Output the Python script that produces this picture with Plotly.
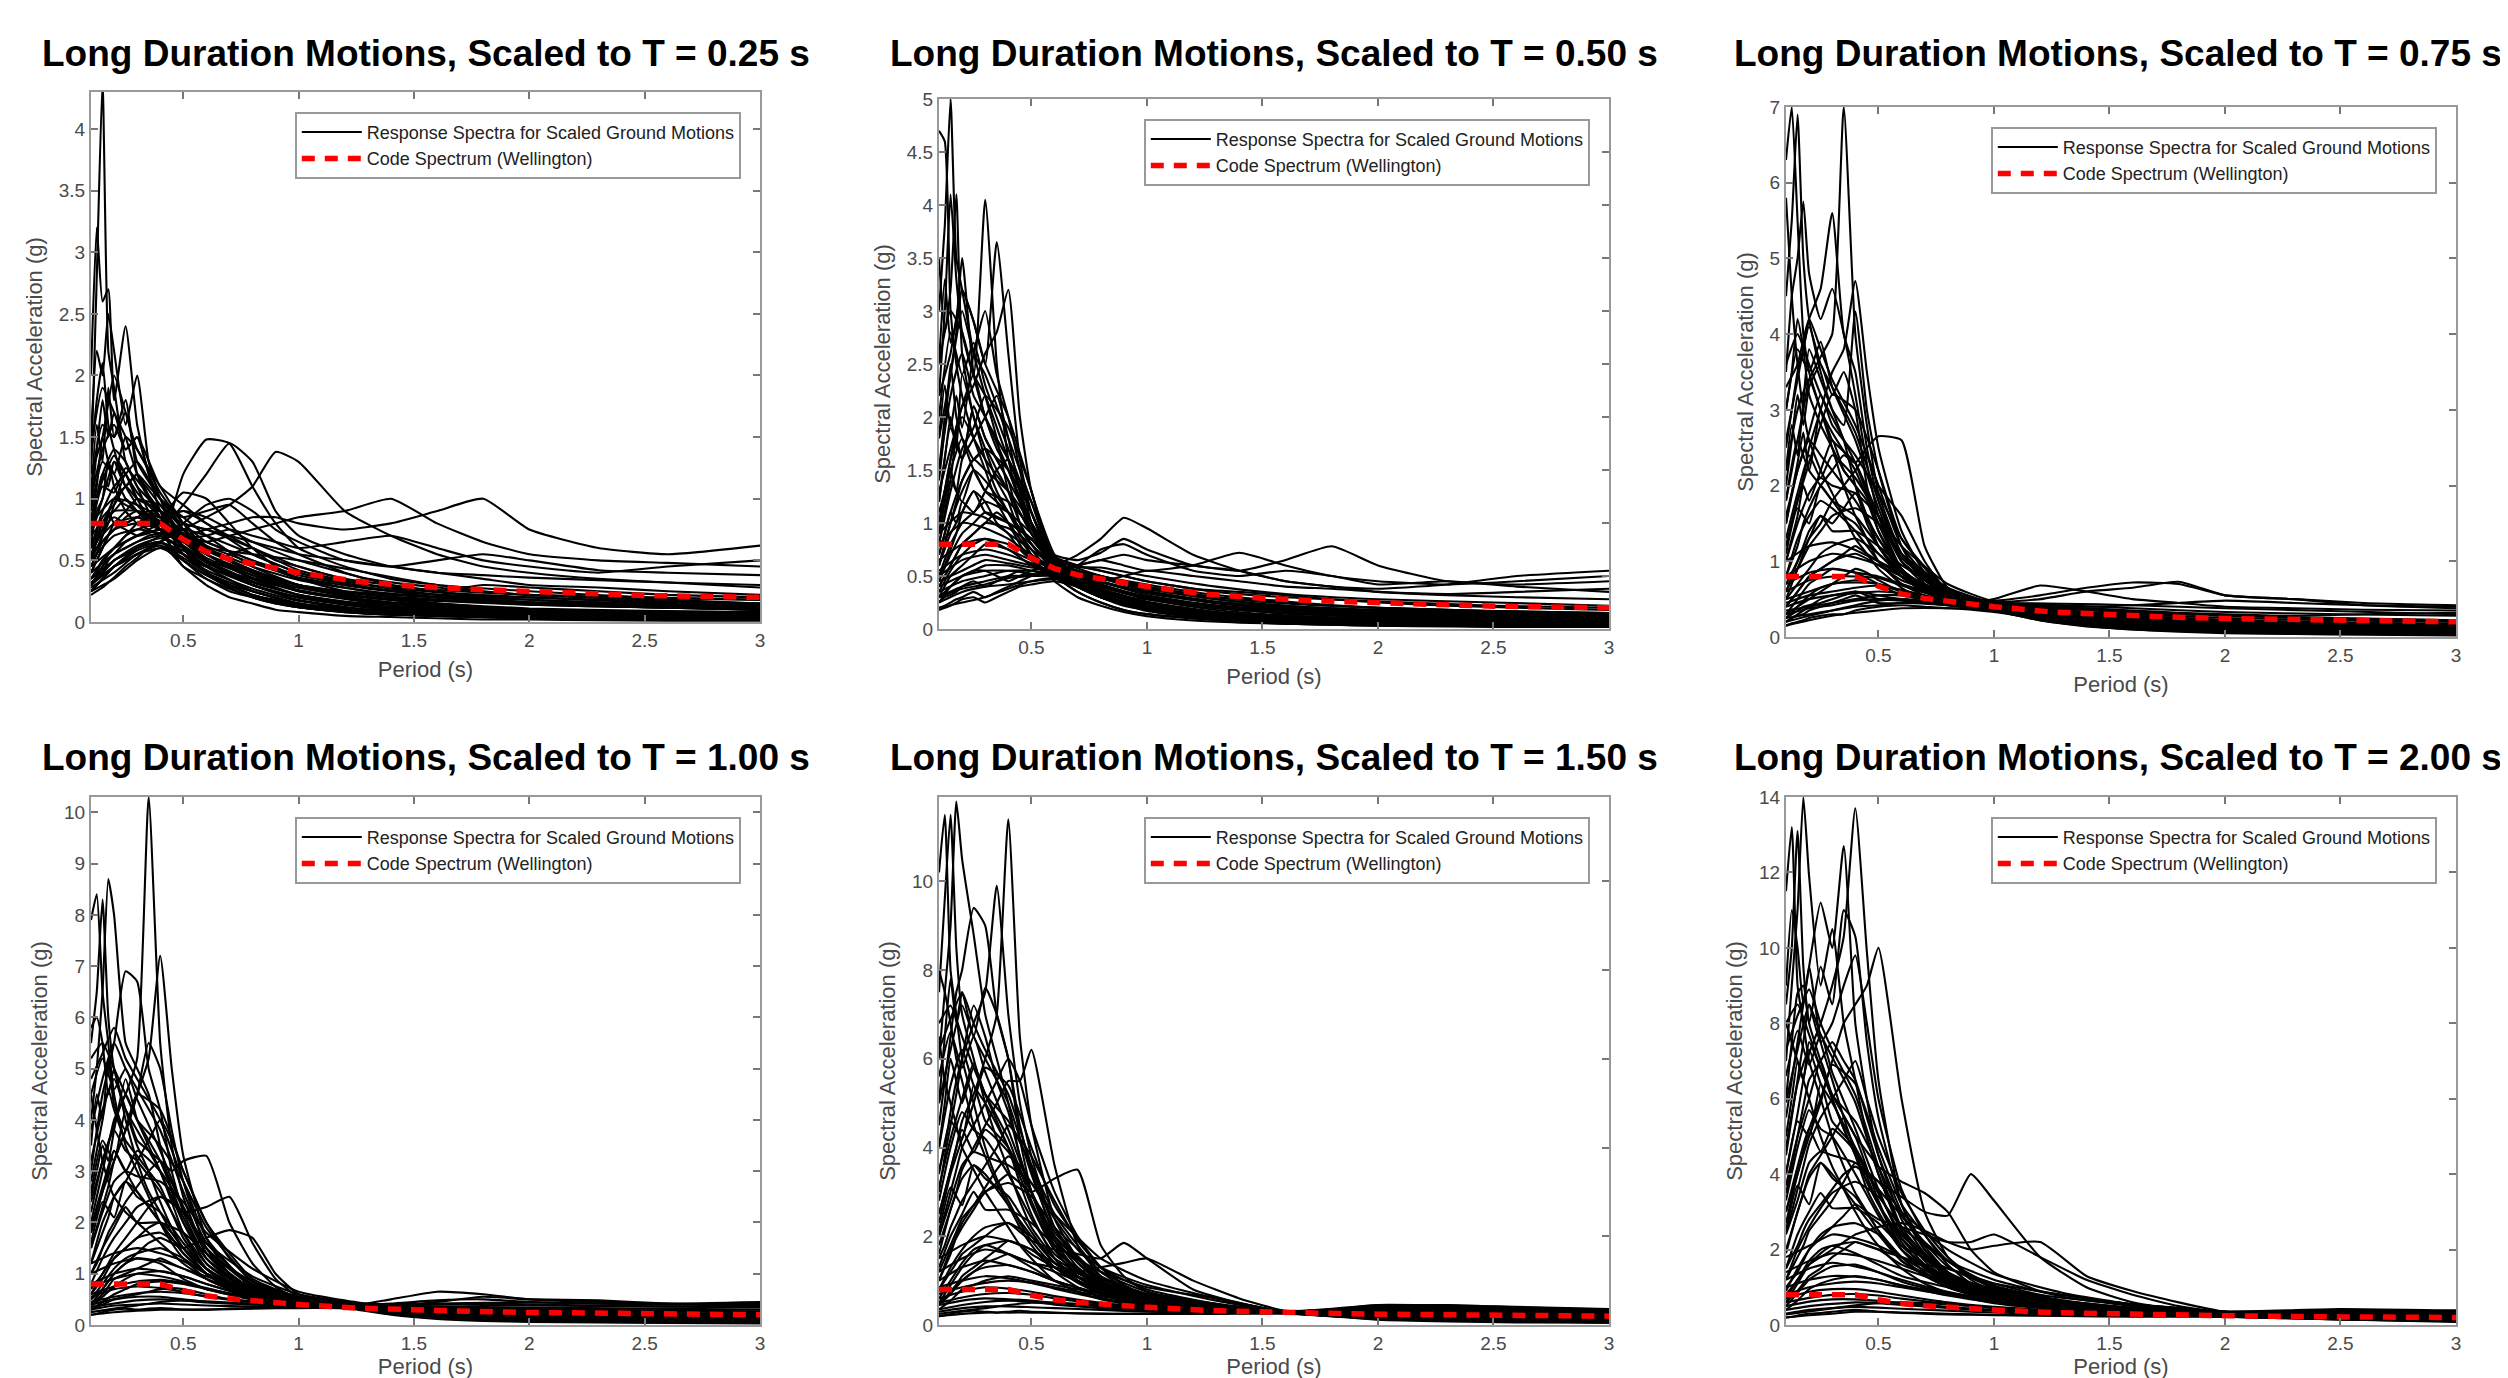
import plotly.graph_objects as go

# ---------------- data ----------------
PERIODS = [0.1, 0.125, 0.15, 0.175, 0.2, 0.25, 0.3, 0.35, 0.4, 0.45, 0.5, 0.6,
           0.7, 0.8, 0.9, 1.0, 1.2, 1.4, 1.6, 1.8, 2.0, 2.3, 2.6, 3.0]
DENSE_PERIODS = [0.1, 0.15, 0.2, 0.25, 0.3, 0.4, 0.5, 0.6, 0.8, 1.0, 1.3, 1.6, 2.0, 2.5, 3.0]
LOW_PERIODS = [0.1, 0.2, 0.3, 0.4, 0.5, 0.6, 0.8, 1.0, 1.3, 1.6, 2.0, 2.5, 3.0]

CODE_T = [0.1, 0.2, 0.3, 0.4, 0.5, 0.6, 0.7, 0.8, 0.9, 1.0, 1.25, 1.5, 1.75, 2.0, 2.5, 3.0]
CODE_SA = [0.8, 0.8, 0.8, 0.8, 0.67, 0.57, 0.51, 0.47, 0.43, 0.40, 0.33, 0.29, 0.265, 0.245, 0.215, 0.20]

SCALE_T = ["0.25", "0.50", "0.75", "1.00", "1.50", "2.00"]
Y_MAX = [4.3, 5.0, 7.0, 10.3, 11.9, 14.0]
Y_DTICK = [0.5, 0.5, 1, 1, 2, 2]
X_TICKS = [0.5, 1, 1.5, 2, 2.5, 3]
X_TICK_TEXT = ["0.5", "1", "1.5", "2", "2.5", "3"]

# --- spectra read on PERIODS grid (outlying / distinctive curves) ---
P1_SPECTRA = [
    [1.2, 2.8, 4.4, 2.2, 1.9, 1.3, 1.1, 0.9, 0.8, 0.6, 0.45, 0.35, 0.25, 0.2, 0.15, 0.12, 0.08, 0.06, 0.05, 0.04, 0.035, 0.03, 0.025, 0.02],
    [2.0, 3.2, 2.6, 2.7, 1.8, 2.4, 1.6, 1.2, 0.9, 0.7, 0.55, 0.4, 0.3, 0.22, 0.18, 0.14, 0.1, 0.08, 0.06, 0.05, 0.04, 0.035, 0.03, 0.025],
    [1.5, 2.2, 2.0, 2.5, 2.2, 1.6, 2.0, 1.3, 1.0, 0.8, 0.7, 0.5, 0.38, 0.3, 0.24, 0.2, 0.14, 0.1, 0.08, 0.07, 0.06, 0.05, 0.04, 0.03],
    [0.9, 1.4, 1.8, 1.5, 1.7, 1.4, 1.5, 1.2, 1.0, 0.9, 0.75, 0.6, 0.5, 0.42, 0.35, 0.3, 0.22, 0.18, 0.14, 0.12, 0.1, 0.08, 0.07, 0.06],
    [0.3, 0.35, 0.4, 0.45, 0.5, 0.55, 0.6, 0.65, 0.7, 0.9, 1.2, 1.48, 1.45, 1.1, 0.8, 0.6, 0.45, 0.35, 0.3, 0.25, 0.22, 0.2, 0.18, 0.15],
    [0.35, 0.4, 0.5, 0.55, 0.6, 0.65, 0.7, 0.75, 0.8, 0.85, 0.95, 1.2, 1.45, 1.3, 0.9, 0.7, 0.55, 0.45, 0.4, 0.35, 0.3, 0.28, 0.25, 0.22],
    [0.25, 0.3, 0.35, 0.4, 0.45, 0.5, 0.55, 0.6, 0.65, 0.7, 0.75, 0.85, 0.95, 1.1, 1.38, 1.3, 0.9, 0.7, 0.55, 0.45, 0.4, 0.35, 0.32, 0.28],
    [0.3, 0.35, 0.4, 0.5, 0.55, 0.6, 0.65, 0.7, 0.72, 0.75, 0.7, 0.65, 0.7, 0.75, 0.8, 0.85, 0.9, 1.0, 0.8, 0.65, 0.55, 0.5, 0.48, 0.45],
    [0.25, 0.3, 0.35, 0.4, 0.45, 0.5, 0.55, 0.6, 0.65, 0.7, 0.7, 0.75, 0.8, 0.85, 0.85, 0.8, 0.75, 0.8, 0.9, 1.0, 0.75, 0.6, 0.55, 0.62],
    [0.4, 0.5, 0.6, 0.7, 0.75, 0.8, 0.85, 0.9, 0.9, 0.85, 0.8, 0.75, 0.7, 0.65, 0.6, 0.55, 0.5, 0.45, 0.4, 0.38, 0.36, 0.34, 0.32, 0.3],
    [0.6, 1.0, 1.2, 1.1, 1.3, 1.2, 1.0, 0.95, 0.9, 0.8, 0.6, 0.4, 0.3, 0.25, 0.2, 0.15, 0.1, 0.08, 0.06, 0.05, 0.04, 0.035, 0.03, 0.02],
    [0.22, 0.25, 0.28, 0.32, 0.36, 0.45, 0.52, 0.6, 0.62, 0.55, 0.45, 0.3, 0.2, 0.15, 0.1, 0.08, 0.05, 0.04, 0.03, 0.02, 0.02, 0.015, 0.01, 0.01],
    [1.0, 1.6, 1.3, 1.9, 1.5, 1.8, 1.2, 1.0, 0.85, 0.7, 0.65, 0.5, 0.4, 0.35, 0.3, 0.25, 0.2, 0.16, 0.14, 0.12, 0.1, 0.09, 0.08, 0.07],
    [0.5, 0.7, 0.8, 0.9, 1.0, 1.1, 1.2, 1.1, 1.0, 0.9, 0.85, 0.9, 0.95, 0.8, 0.65, 0.55, 0.4, 0.3, 0.25, 0.2, 0.18, 0.15, 0.12, 0.1],
    [0.8, 1.1, 1.5, 1.3, 1.2, 1.0, 0.9, 0.8, 0.75, 0.7, 0.8, 0.95, 1.0, 0.9, 0.75, 0.65, 0.5, 0.45, 0.5, 0.55, 0.5, 0.42, 0.4, 0.38],
    [0.3, 0.35, 0.45, 0.55, 0.6, 0.7, 0.8, 0.85, 0.8, 0.75, 0.65, 0.55, 0.45, 0.35, 0.3, 0.28, 0.25, 0.22, 0.2, 0.18, 0.15, 0.13, 0.12, 0.1],
    [0.7, 0.9, 1.0, 1.3, 1.1, 0.9, 0.8, 0.75, 0.7, 0.65, 0.55, 0.45, 0.55, 0.6, 0.5, 0.45, 0.35, 0.3, 0.25, 0.3, 0.28, 0.25, 0.22, 0.2],
    [1.3, 1.8, 2.1, 1.6, 1.4, 1.1, 0.95, 0.85, 0.75, 0.6, 0.5, 0.38, 0.28, 0.2, 0.15, 0.12, 0.08, 0.06, 0.05, 0.04, 0.03, 0.03, 0.02, 0.02],
    [0.45, 0.55, 0.7, 0.8, 0.95, 1.2, 1.0, 0.85, 0.8, 0.95, 1.05, 1.0, 0.8, 0.6, 0.45, 0.35, 0.25, 0.2, 0.15, 0.12, 0.1, 0.08, 0.07, 0.06],
    [0.55, 0.65, 0.75, 0.9, 0.8, 0.75, 0.7, 0.72, 0.75, 0.7, 0.68, 0.7, 0.75, 0.7, 0.65, 0.6, 0.65, 0.7, 0.6, 0.5, 0.45, 0.4, 0.45, 0.5],
]

P2_SPECTRA = [
    [4.7, 4.6, 3.0, 2.5, 2.2, 1.8, 1.5, 1.2, 1.0, 0.8, 0.65, 0.5, 0.35, 0.25, 0.18, 0.14, 0.1, 0.07, 0.05, 0.04, 0.035, 0.03, 0.025, 0.02],
    [3.0, 3.8, 5.0, 3.5, 3.2, 2.6, 2.2, 1.8, 1.3, 1.0, 0.8, 0.55, 0.4, 0.3, 0.22, 0.18, 0.12, 0.09, 0.07, 0.06, 0.05, 0.04, 0.03, 0.03],
    [2.2, 3.0, 4.1, 3.3, 2.8, 2.4, 4.05, 2.5, 1.6, 1.2, 0.9, 0.6, 0.45, 0.35, 0.28, 0.22, 0.16, 0.12, 0.1, 0.08, 0.07, 0.06, 0.05, 0.04],
    [1.5, 2.0, 2.4, 2.8, 3.2, 2.9, 2.5, 3.65, 2.6, 1.6, 1.1, 0.65, 0.45, 0.35, 0.3, 0.25, 0.18, 0.14, 0.12, 0.1, 0.09, 0.08, 0.07, 0.06],
    [1.0, 1.3, 1.6, 1.9, 2.1, 2.3, 2.6, 2.8, 3.2, 2.0, 1.3, 0.7, 0.5, 0.4, 0.35, 0.3, 0.22, 0.18, 0.15, 0.13, 0.12, 0.1, 0.09, 0.08],
    [0.6, 0.8, 1.0, 1.2, 1.4, 1.6, 1.7, 1.5, 1.3, 1.1, 0.9, 0.62, 0.55, 0.5, 0.45, 0.4, 0.32, 0.28, 0.25, 0.22, 0.2, 0.18, 0.16, 0.14],
    [0.3, 0.35, 0.4, 0.45, 0.5, 0.55, 0.55, 0.5, 0.45, 0.5, 0.55, 0.6, 0.7, 0.85, 1.05, 0.95, 0.7, 0.55, 0.45, 0.4, 0.35, 0.32, 0.3, 0.28],
    [0.25, 0.3, 0.32, 0.35, 0.4, 0.45, 0.4, 0.45, 0.5, 0.55, 0.5, 0.55, 0.6, 0.65, 0.6, 0.55, 0.6, 0.72, 0.6, 0.5, 0.45, 0.42, 0.45, 0.5],
    [0.2, 0.22, 0.25, 0.28, 0.3, 0.35, 0.3, 0.35, 0.4, 0.45, 0.5, 0.55, 0.6, 0.65, 0.7, 0.65, 0.6, 0.55, 0.65, 0.78, 0.6, 0.45, 0.42, 0.45],
    [0.8, 1.1, 1.4, 1.8, 1.6, 2.1, 1.8, 1.6, 1.4, 1.0, 0.8, 0.55, 0.4, 0.3, 0.25, 0.2, 0.14, 0.1, 0.08, 0.07, 0.06, 0.05, 0.04, 0.03],
    [2.5, 3.3, 2.7, 2.9, 3.5, 2.4, 2.0, 1.7, 1.5, 1.2, 0.95, 0.6, 0.4, 0.3, 0.25, 0.2, 0.14, 0.1, 0.08, 0.06, 0.05, 0.04, 0.03, 0.03],
    [0.4, 0.5, 0.6, 0.7, 0.8, 0.9, 1.0, 1.1, 1.0, 0.85, 0.7, 0.55, 0.5, 0.45, 0.5, 0.55, 0.5, 0.45, 0.4, 0.38, 0.35, 0.33, 0.35, 0.38],
    [1.2, 1.6, 2.0, 1.7, 2.4, 2.0, 1.6, 1.3, 1.1, 0.9, 0.75, 0.5, 0.35, 0.25, 0.18, 0.14, 0.1, 0.07, 0.05, 0.04, 0.03, 0.03, 0.02, 0.02],
    [0.18, 0.2, 0.22, 0.25, 0.28, 0.3, 0.25, 0.3, 0.35, 0.4, 0.42, 0.45, 0.4, 0.35, 0.3, 0.28, 0.22, 0.18, 0.15, 0.13, 0.12, 0.1, 0.09, 0.08],
    [0.9, 1.2, 1.5, 1.3, 1.6, 1.8, 2.0, 2.2, 1.8, 1.3, 1.0, 0.68, 0.6, 0.55, 0.5, 0.45, 0.38, 0.35, 0.32, 0.28, 0.25, 0.22, 0.2, 0.18],
    [0.5, 0.6, 0.75, 0.9, 1.1, 1.3, 1.2, 1.0, 0.9, 0.75, 0.65, 0.5, 0.6, 0.75, 0.8, 0.7, 0.55, 0.5, 0.55, 0.5, 0.42, 0.45, 0.4, 0.35],
    [3.5, 2.8, 3.2, 4.1, 2.6, 2.0, 1.7, 1.4, 1.2, 0.9, 0.7, 0.45, 0.3, 0.22, 0.16, 0.12, 0.08, 0.06, 0.05, 0.04, 0.03, 0.025, 0.02, 0.02],
    [1.8, 2.3, 1.9, 2.2, 1.9, 2.6, 3.0, 2.4, 2.0, 1.5, 1.0, 0.6, 0.42, 0.32, 0.25, 0.2, 0.15, 0.12, 0.1, 0.08, 0.07, 0.06, 0.05, 0.05],
    [0.7, 0.9, 1.1, 1.0, 1.2, 1.1, 1.3, 1.5, 1.6, 1.3, 1.0, 0.7, 0.65, 0.72, 0.85, 0.75, 0.6, 0.55, 0.45, 0.4, 0.38, 0.42, 0.5, 0.55],
    [1.4, 1.9, 2.5, 2.0, 1.8, 1.5, 1.3, 1.2, 1.1, 0.95, 0.85, 0.6, 0.5, 0.42, 0.35, 0.3, 0.24, 0.2, 0.18, 0.16, 0.14, 0.12, 0.11, 0.1],
]

P3_SPECTRA = [
    [6.3, 7.0, 5.5, 4.0, 3.5, 3.0, 2.5, 2.0, 1.6, 1.3, 1.0, 0.7, 0.55, 0.47, 0.42, 0.35, 0.22, 0.15, 0.1, 0.08, 0.06, 0.05, 0.04, 0.03],
    [4.5, 5.5, 6.9, 5.0, 4.2, 3.5, 3.0, 2.6, 2.0, 1.5, 1.2, 0.8, 0.6, 0.5, 0.44, 0.38, 0.25, 0.17, 0.12, 0.09, 0.07, 0.06, 0.05, 0.04],
    [3.5, 4.5, 5.0, 5.75, 4.8, 4.2, 4.6, 4.0, 3.2, 2.3, 1.6, 0.9, 0.65, 0.52, 0.45, 0.4, 0.28, 0.2, 0.15, 0.12, 0.1, 0.08, 0.06, 0.05],
    [2.5, 3.0, 3.5, 3.8, 4.2, 4.6, 5.6, 4.0, 3.5, 2.5, 1.8, 1.0, 0.7, 0.55, 0.46, 0.4, 0.3, 0.22, 0.17, 0.14, 0.12, 0.1, 0.08, 0.07],
    [1.8, 2.2, 2.6, 3.0, 3.4, 3.7, 4.0, 7.0, 4.0, 2.8, 1.9, 1.1, 0.75, 0.55, 0.46, 0.42, 0.32, 0.25, 0.2, 0.16, 0.14, 0.12, 0.1, 0.08],
    [1.2, 1.5, 1.8, 2.1, 2.5, 3.0, 3.5, 3.8, 4.7, 3.5, 2.5, 1.4, 0.85, 0.6, 0.48, 0.43, 0.35, 0.28, 0.22, 0.2, 0.18, 0.15, 0.13, 0.12],
    [0.8, 1.0, 1.2, 1.5, 1.7, 2.0, 2.2, 2.4, 2.3, 2.5, 2.65, 2.6, 1.2, 0.65, 0.5, 0.45, 0.38, 0.32, 0.28, 0.25, 0.22, 0.2, 0.18, 0.16],
    [0.3, 0.35, 0.4, 0.45, 0.5, 0.6, 0.7, 0.8, 0.9, 0.85, 0.75, 0.6, 0.5, 0.45, 0.45, 0.5, 0.68, 0.6, 0.5, 0.45, 0.4, 0.38, 0.36, 0.35],
    [0.2, 0.25, 0.28, 0.3, 0.35, 0.4, 0.45, 0.5, 0.55, 0.5, 0.45, 0.45, 0.48, 0.5, 0.5, 0.48, 0.55, 0.65, 0.72, 0.7, 0.55, 0.5, 0.45, 0.42],
    [0.25, 0.3, 0.35, 0.4, 0.42, 0.45, 0.5, 0.55, 0.6, 0.55, 0.5, 0.48, 0.45, 0.42, 0.4, 0.45, 0.5, 0.6, 0.65, 0.73, 0.55, 0.5, 0.42, 0.38],
    [3.0, 3.5, 4.2, 3.8, 3.2, 2.8, 2.5, 2.2, 2.0, 1.8, 1.4, 0.9, 0.6, 0.48, 0.42, 0.36, 0.25, 0.18, 0.13, 0.1, 0.08, 0.07, 0.06, 0.05],
    [0.15, 0.18, 0.2, 0.22, 0.25, 0.28, 0.3, 0.3, 0.35, 0.38, 0.4, 0.42, 0.4, 0.38, 0.38, 0.36, 0.3, 0.25, 0.2, 0.18, 0.16, 0.14, 0.12, 0.1],
    [0.5, 0.7, 0.9, 1.1, 1.3, 1.5, 1.8, 2.0, 2.2, 2.4, 2.0, 1.6, 1.0, 0.6, 0.48, 0.42, 0.35, 0.3, 0.27, 0.25, 0.22, 0.2, 0.18, 0.17],
    [2.0, 2.6, 3.2, 2.8, 3.3, 3.6, 3.2, 3.5, 3.0, 2.0, 1.4, 0.85, 0.6, 0.5, 0.44, 0.38, 0.26, 0.18, 0.13, 0.1, 0.08, 0.07, 0.05, 0.04],
    [1.0, 1.3, 1.6, 2.0, 1.8, 2.2, 2.6, 2.2, 2.0, 1.6, 1.3, 0.9, 0.65, 0.52, 0.45, 0.4, 0.3, 0.24, 0.2, 0.17, 0.15, 0.13, 0.12, 0.1],
    [5.8, 4.5, 3.6, 3.0, 2.6, 2.2, 1.9, 1.6, 1.3, 1.1, 0.9, 0.65, 0.5, 0.44, 0.4, 0.35, 0.22, 0.14, 0.1, 0.07, 0.05, 0.04, 0.03, 0.02],
    [0.6, 0.8, 1.0, 1.2, 1.4, 1.6, 1.5, 1.7, 1.9, 1.6, 1.2, 0.8, 0.6, 0.5, 0.45, 0.42, 0.4, 0.38, 0.35, 0.32, 0.3, 0.28, 0.3, 0.32],
    [0.4, 0.5, 0.6, 0.7, 0.8, 0.9, 1.0, 1.1, 1.2, 1.1, 1.0, 0.8, 0.6, 0.5, 0.45, 0.43, 0.42, 0.4, 0.42, 0.45, 0.48, 0.45, 0.42, 0.4],
    [2.2, 2.8, 2.4, 3.1, 3.8, 3.4, 3.0, 2.8, 4.3, 3.0, 2.2, 1.2, 0.7, 0.53, 0.45, 0.4, 0.28, 0.2, 0.15, 0.12, 0.1, 0.08, 0.07, 0.06],
    [1.5, 1.9, 2.3, 2.7, 2.2, 2.0, 1.8, 1.6, 1.5, 1.3, 1.1, 0.85, 0.62, 0.5, 0.44, 0.39, 0.32, 0.27, 0.23, 0.2, 0.17, 0.15, 0.13, 0.11],
]

P4_SPECTRA = [
    [7.9, 8.4, 6.5, 5.5, 4.5, 3.5, 3.0, 2.5, 2.0, 1.6, 1.3, 0.9, 0.7, 0.55, 0.45, 0.4, 0.33, 0.2, 0.12, 0.08, 0.06, 0.05, 0.04, 0.03],
    [5.5, 6.5, 8.3, 6.0, 5.0, 4.2, 3.5, 3.0, 2.4, 1.9, 1.5, 1.0, 0.75, 0.58, 0.48, 0.42, 0.34, 0.22, 0.15, 0.1, 0.08, 0.06, 0.05, 0.04],
    [4.0, 5.0, 6.5, 8.7, 8.0, 5.5, 5.0, 4.5, 3.5, 2.6, 2.0, 1.2, 0.85, 0.6, 0.5, 0.43, 0.35, 0.25, 0.18, 0.14, 0.11, 0.09, 0.07, 0.06],
    [3.0, 3.8, 4.5, 5.0, 5.5, 6.9, 6.7, 5.0, 4.2, 3.0, 2.2, 1.3, 0.9, 0.65, 0.5, 0.44, 0.35, 0.28, 0.22, 0.18, 0.15, 0.12, 0.1, 0.08],
    [2.0, 2.5, 3.0, 3.5, 4.0, 4.5, 5.2, 10.3, 5.5, 3.5, 2.5, 1.4, 0.95, 0.7, 0.55, 0.46, 0.36, 0.3, 0.25, 0.2, 0.18, 0.15, 0.13, 0.1],
    [1.5, 1.9, 2.3, 2.7, 3.2, 3.8, 4.5, 5.2, 7.2, 5.0, 3.3, 1.7, 1.0, 0.7, 0.55, 0.46, 0.37, 0.32, 0.28, 0.25, 0.22, 0.2, 0.18, 0.16],
    [1.0, 1.2, 1.5, 1.8, 2.0, 2.4, 2.7, 3.0, 3.2, 3.0, 3.2, 3.3, 2.0, 1.2, 0.75, 0.5, 0.38, 0.32, 0.28, 0.25, 0.22, 0.2, 0.18, 0.16],
    [0.7, 0.85, 1.0, 1.2, 1.4, 1.7, 2.0, 2.3, 2.5, 2.4, 2.2, 2.3, 2.5, 1.6, 0.9, 0.55, 0.38, 0.34, 0.3, 0.28, 0.26, 0.24, 0.22, 0.2],
    [0.5, 0.6, 0.7, 0.85, 1.0, 1.2, 1.4, 1.6, 1.7, 1.6, 1.5, 1.7, 1.85, 1.7, 1.0, 0.6, 0.4, 0.38, 0.4, 0.42, 0.4, 0.38, 0.36, 0.35],
    [0.3, 0.35, 0.4, 0.45, 0.5, 0.55, 0.6, 0.65, 0.7, 0.72, 0.7, 0.6, 0.5, 0.45, 0.42, 0.4, 0.36, 0.5, 0.65, 0.6, 0.5, 0.45, 0.42, 0.45],
    [0.2, 0.22, 0.25, 0.28, 0.3, 0.32, 0.3, 0.32, 0.33, 0.32, 0.3, 0.3, 0.32, 0.33, 0.34, 0.34, 0.33, 0.32, 0.3, 0.28, 0.26, 0.24, 0.22, 0.2],
    [5.8, 6.0, 5.5, 4.5, 5.0, 4.0, 3.2, 2.6, 2.2, 1.8, 1.5, 1.0, 0.7, 0.55, 0.45, 0.4, 0.34, 0.25, 0.17, 0.12, 0.09, 0.07, 0.06, 0.05],
    [3.5, 4.5, 4.0, 5.2, 4.3, 3.8, 4.5, 5.5, 5.0, 3.8, 2.8, 1.5, 1.0, 0.7, 0.55, 0.46, 0.36, 0.28, 0.22, 0.18, 0.15, 0.12, 0.1, 0.09],
    [2.5, 3.0, 3.5, 3.2, 3.8, 4.8, 4.0, 3.5, 3.0, 2.4, 1.8, 1.1, 0.75, 0.58, 0.48, 0.43, 0.35, 0.26, 0.2, 0.16, 0.13, 0.1, 0.08, 0.07],
    [1.2, 1.5, 1.8, 2.1, 2.5, 2.8, 3.2, 3.6, 4.0, 3.6, 3.0, 2.0, 1.3, 0.85, 0.6, 0.48, 0.38, 0.33, 0.3, 0.28, 0.25, 0.23, 0.22, 0.2],
    [0.6, 0.75, 0.9, 1.1, 1.3, 1.5, 1.7, 1.9, 2.0, 1.8, 1.5, 1.1, 0.8, 0.62, 0.5, 0.44, 0.38, 0.42, 0.48, 0.5, 0.45, 0.42, 0.4, 0.42],
    [4.5, 3.8, 3.2, 2.8, 2.5, 2.2, 2.0, 1.8, 1.6, 1.4, 1.2, 0.9, 0.7, 0.55, 0.46, 0.4, 0.35, 0.28, 0.22, 0.18, 0.15, 0.12, 0.1, 0.08],
    [0.4, 0.5, 0.6, 0.75, 0.9, 1.0, 1.1, 1.2, 1.3, 1.2, 1.1, 0.95, 0.8, 0.65, 0.55, 0.48, 0.4, 0.38, 0.45, 0.55, 0.5, 0.48, 0.42, 0.4],
    [2.8, 3.4, 4.0, 4.6, 4.2, 3.6, 3.3, 3.0, 2.7, 2.2, 1.7, 1.1, 0.8, 0.6, 0.5, 0.43, 0.35, 0.26, 0.19, 0.15, 0.12, 0.1, 0.08, 0.06],
    [1.8, 2.2, 2.6, 3.0, 3.4, 3.0, 2.6, 2.3, 2.0, 1.7, 1.4, 1.0, 0.75, 0.6, 0.5, 0.44, 0.36, 0.3, 0.25, 0.22, 0.2, 0.18, 0.16, 0.15],
]

P5_SPECTRA = [
    [10.2, 11.5, 8.0, 7.0, 6.0, 5.0, 4.0, 3.3, 2.8, 2.3, 1.9, 1.3, 0.95, 0.7, 0.55, 0.45, 0.35, 0.3, 0.27, 0.2, 0.12, 0.08, 0.06, 0.05],
    [7.5, 9.6, 11.5, 8.5, 7.0, 6.0, 5.0, 4.2, 3.5, 2.8, 2.2, 1.5, 1.0, 0.75, 0.6, 0.5, 0.38, 0.32, 0.28, 0.22, 0.15, 0.1, 0.08, 0.06],
    [6.0, 7.5, 9.0, 11.8, 10.5, 8.8, 7.0, 6.0, 5.0, 3.8, 3.0, 1.8, 1.2, 0.85, 0.65, 0.52, 0.4, 0.33, 0.28, 0.24, 0.18, 0.14, 0.1, 0.08],
    [4.5, 5.5, 6.5, 7.5, 8.0, 9.4, 9.0, 7.0, 6.0, 4.5, 3.5, 2.0, 1.3, 0.9, 0.7, 0.55, 0.42, 0.34, 0.29, 0.26, 0.22, 0.18, 0.15, 0.12],
    [3.5, 4.0, 4.8, 5.5, 6.0, 6.8, 7.5, 9.9, 7.0, 5.0, 3.8, 2.2, 1.4, 0.95, 0.72, 0.56, 0.42, 0.35, 0.3, 0.28, 0.26, 0.24, 0.22, 0.2],
    [2.5, 3.0, 3.5, 4.0, 4.6, 5.2, 6.0, 7.0, 11.4, 6.5, 4.5, 2.4, 1.5, 1.0, 0.75, 0.58, 0.44, 0.36, 0.3, 0.3, 0.32, 0.35, 0.3, 0.28],
    [1.8, 2.2, 2.6, 3.0, 3.5, 4.0, 4.5, 5.0, 5.5, 5.5, 6.2, 3.6, 1.8, 1.1, 0.8, 0.6, 0.45, 0.36, 0.3, 0.3, 0.35, 0.4, 0.35, 0.3],
    [1.2, 1.5, 1.8, 2.1, 2.4, 2.7, 3.0, 3.2, 3.4, 3.2, 3.0, 3.3, 3.5, 1.8, 1.1, 0.75, 0.5, 0.38, 0.3, 0.32, 0.38, 0.42, 0.38, 0.32],
    [0.8, 1.0, 1.2, 1.4, 1.6, 1.8, 2.0, 2.2, 2.3, 2.1, 1.9, 1.7, 1.6, 1.5, 1.85, 1.5, 0.8, 0.5, 0.3, 0.35, 0.42, 0.45, 0.4, 0.35],
    [0.5, 0.6, 0.75, 0.9, 1.0, 1.2, 1.4, 1.5, 1.6, 1.5, 1.4, 1.3, 1.2, 1.3, 1.4, 1.5, 1.0, 0.6, 0.32, 0.35, 0.4, 0.38, 0.35, 0.32],
    [0.2, 0.22, 0.25, 0.28, 0.3, 0.32, 0.3, 0.28, 0.3, 0.32, 0.3, 0.28, 0.26, 0.25, 0.25, 0.25, 0.26, 0.27, 0.27, 0.25, 0.2, 0.15, 0.12, 0.1],
    [8.0, 7.5, 6.8, 6.0, 5.5, 4.5, 3.8, 3.2, 2.7, 2.2, 1.8, 1.2, 0.85, 0.62, 0.5, 0.42, 0.34, 0.3, 0.27, 0.22, 0.15, 0.11, 0.08, 0.06],
    [5.0, 6.5, 7.8, 6.8, 7.5, 6.5, 7.6, 7.0, 6.0, 4.2, 3.0, 1.7, 1.1, 0.8, 0.6, 0.5, 0.38, 0.32, 0.28, 0.24, 0.2, 0.16, 0.13, 0.1],
    [3.0, 3.8, 4.5, 5.2, 6.0, 7.2, 6.5, 5.5, 4.8, 3.8, 3.0, 1.9, 1.2, 0.85, 0.65, 0.52, 0.4, 0.33, 0.28, 0.25, 0.22, 0.2, 0.18, 0.15],
    [2.0, 2.5, 3.0, 3.5, 4.0, 4.5, 5.0, 5.5, 6.0, 5.5, 4.5, 3.0, 2.0, 1.3, 0.9, 0.65, 0.45, 0.36, 0.3, 0.32, 0.38, 0.42, 0.38, 0.3],
    [1.0, 1.3, 1.6, 2.0, 2.3, 2.7, 3.1, 3.5, 3.8, 3.6, 3.2, 2.4, 1.7, 1.2, 0.85, 0.65, 0.48, 0.38, 0.3, 0.3, 0.32, 0.3, 0.28, 0.25],
    [6.5, 5.5, 5.0, 4.5, 4.0, 3.5, 3.0, 2.6, 2.2, 1.8, 1.5, 1.0, 0.75, 0.58, 0.48, 0.4, 0.33, 0.29, 0.27, 0.22, 0.17, 0.13, 0.1, 0.08],
    [0.5, 0.6, 0.75, 0.9, 1.1, 1.3, 1.5, 1.7, 1.9, 1.8, 1.6, 1.3, 1.0, 0.8, 0.65, 0.55, 0.45, 0.35, 0.3, 0.35, 0.45, 0.42, 0.38, 0.33],
    [4.0, 5.0, 6.0, 5.5, 5.0, 5.8, 5.2, 4.6, 4.0, 3.2, 2.5, 1.5, 1.0, 0.72, 0.56, 0.46, 0.36, 0.3, 0.27, 0.22, 0.18, 0.14, 0.11, 0.09],
    [1.5, 1.8, 2.2, 2.5, 2.8, 3.2, 3.6, 4.0, 4.5, 4.2, 3.8, 2.8, 1.9, 1.3, 0.9, 0.68, 0.5, 0.38, 0.3, 0.28, 0.26, 0.24, 0.22, 0.2],
]

P6_SPECTRA = [
    [11.5, 13.2, 9.0, 8.0, 7.0, 6.0, 5.0, 4.2, 3.5, 3.0, 2.5, 1.8, 1.3, 1.0, 0.8, 0.65, 0.5, 0.4, 0.35, 0.3, 0.28, 0.26, 0.2, 0.15],
    [8.5, 10.0, 13.1, 9.5, 8.0, 7.0, 6.0, 5.2, 4.5, 3.6, 3.0, 2.0, 1.4, 1.05, 0.85, 0.7, 0.52, 0.42, 0.36, 0.32, 0.28, 0.25, 0.22, 0.18],
    [7.0, 9.0, 11.0, 14.0, 11.9, 9.0, 10.5, 8.0, 6.5, 5.0, 4.0, 2.5, 1.7, 1.2, 0.9, 0.75, 0.55, 0.44, 0.38, 0.33, 0.3, 0.26, 0.24, 0.22],
    [5.5, 6.5, 7.5, 8.5, 9.5, 11.2, 10.0, 12.7, 8.0, 6.0, 4.5, 2.8, 1.9, 1.3, 0.95, 0.78, 0.56, 0.45, 0.38, 0.33, 0.3, 0.27, 0.28, 0.3],
    [4.0, 4.8, 5.6, 6.5, 7.2, 8.0, 9.0, 10.3, 13.7, 9.9, 6.5, 3.2, 2.0, 1.4, 1.0, 0.8, 0.58, 0.46, 0.4, 0.35, 0.3, 0.26, 0.3, 0.32],
    [3.0, 3.5, 4.0, 4.6, 5.2, 6.0, 7.0, 8.0, 8.5, 9.0, 10.0, 6.0, 3.0, 1.8, 1.2, 0.9, 0.62, 0.48, 0.4, 0.35, 0.3, 0.25, 0.28, 0.3],
    [1.5, 1.8, 2.1, 2.5, 2.8, 3.2, 3.6, 4.0, 4.2, 4.0, 3.8, 3.4, 3.0, 2.9, 4.0, 3.3, 1.8, 1.0, 0.6, 0.4, 0.3, 0.26, 0.3, 0.32],
    [1.0, 1.2, 1.4, 1.7, 2.0, 2.3, 2.6, 2.9, 3.2, 3.0, 2.8, 2.6, 2.4, 2.2, 2.2, 2.4, 1.8, 1.2, 0.8, 0.5, 0.32, 0.25, 0.3, 0.3],
    [0.8, 1.0, 1.2, 1.4, 1.6, 1.8, 2.0, 2.2, 2.4, 2.5, 2.6, 2.7, 2.5, 2.2, 2.0, 2.1, 2.2, 1.3, 0.9, 0.6, 0.35, 0.26, 0.32, 0.3],
    [2.0, 2.5, 3.0, 3.5, 4.0, 4.5, 5.0, 5.5, 5.0, 4.6, 4.2, 3.8, 3.5, 3.0, 2.0, 1.4, 0.9, 0.7, 0.55, 0.45, 0.34, 0.27, 0.25, 0.22],
    [0.2, 0.22, 0.25, 0.28, 0.3, 0.32, 0.35, 0.38, 0.4, 0.38, 0.35, 0.32, 0.3, 0.28, 0.27, 0.26, 0.25, 0.24, 0.24, 0.24, 0.24, 0.23, 0.2, 0.15],
    [9.0, 11.0, 10.0, 8.5, 9.5, 7.5, 6.5, 5.5, 4.6, 3.8, 3.2, 2.2, 1.5, 1.1, 0.85, 0.68, 0.5, 0.4, 0.34, 0.3, 0.27, 0.24, 0.2, 0.16],
    [6.0, 7.5, 8.8, 9.0, 8.0, 9.5, 8.5, 11.0, 10.3, 7.5, 5.5, 3.2, 2.1, 1.4, 1.0, 0.8, 0.58, 0.45, 0.38, 0.33, 0.3, 0.27, 0.28, 0.26],
    [4.5, 5.5, 6.5, 7.5, 8.5, 7.5, 8.0, 9.0, 9.8, 8.0, 6.0, 3.6, 2.4, 1.6, 1.1, 0.85, 0.6, 0.47, 0.4, 0.34, 0.3, 0.26, 0.26, 0.24],
    [3.5, 4.2, 5.0, 5.8, 6.5, 7.0, 7.5, 7.0, 6.5, 5.5, 4.5, 3.0, 2.0, 1.4, 1.0, 0.8, 0.56, 0.44, 0.37, 0.32, 0.29, 0.26, 0.25, 0.22],
    [2.5, 3.0, 3.6, 4.2, 4.8, 5.5, 6.0, 6.5, 7.0, 6.0, 5.0, 3.5, 2.5, 1.8, 1.3, 0.95, 0.65, 0.5, 0.42, 0.36, 0.31, 0.27, 0.3, 0.33],
    [8.0, 7.5, 7.0, 6.5, 6.0, 5.0, 4.2, 3.6, 3.0, 2.5, 2.1, 1.5, 1.1, 0.85, 0.7, 0.58, 0.45, 0.38, 0.34, 0.3, 0.27, 0.25, 0.22, 0.18],
    [0.6, 0.75, 0.9, 1.1, 1.3, 1.5, 1.8, 2.0, 2.2, 2.1, 2.0, 1.8, 1.6, 1.5, 1.3, 1.1, 0.8, 0.65, 0.55, 0.45, 0.35, 0.28, 0.35, 0.38],
    [5.0, 6.0, 7.0, 6.5, 7.5, 6.8, 6.0, 5.2, 4.5, 3.8, 3.2, 2.3, 1.6, 1.2, 0.9, 0.72, 0.52, 0.42, 0.36, 0.32, 0.29, 0.26, 0.24, 0.2],
    [1.2, 1.5, 1.8, 2.1, 2.5, 2.9, 3.3, 3.8, 4.3, 4.0, 3.6, 2.9, 2.2, 1.7, 1.3, 1.0, 0.7, 0.55, 0.45, 0.38, 0.32, 0.26, 0.3, 0.35],
]

# --- spectra read on DENSE_PERIODS grid (the dense central band) ---
P1_DENSE = [
    [0.3, 0.4, 0.5, 0.55, 0.6, 0.65, 0.5, 0.35, 0.2, 0.12, 0.07, 0.05, 0.03, 0.02, 0.02],
    [0.5, 0.8, 0.9, 1.0, 0.9, 0.8, 0.6, 0.45, 0.25, 0.15, 0.1, 0.07, 0.05, 0.04, 0.03],
    [0.8, 1.2, 1.4, 1.3, 1.1, 0.9, 0.7, 0.5, 0.3, 0.2, 0.12, 0.08, 0.06, 0.04, 0.03],
    [1.1, 1.6, 1.5, 1.7, 1.3, 1.0, 0.75, 0.55, 0.35, 0.22, 0.14, 0.1, 0.07, 0.05, 0.04],
    [0.6, 0.9, 1.1, 1.2, 1.3, 1.0, 0.85, 0.7, 0.45, 0.3, 0.2, 0.15, 0.1, 0.08, 0.06],
    [0.4, 0.6, 0.8, 0.9, 1.0, 0.9, 0.8, 0.75, 0.6, 0.45, 0.3, 0.22, 0.16, 0.12, 0.1],
    [0.7, 1.0, 1.3, 1.1, 1.2, 0.85, 0.9, 0.8, 0.55, 0.4, 0.28, 0.2, 0.15, 0.12, 0.1],
    [0.35, 0.5, 0.6, 0.7, 0.75, 0.8, 0.7, 0.6, 0.4, 0.28, 0.18, 0.12, 0.09, 0.07, 0.05],
    [1.4, 1.9, 1.7, 1.5, 1.2, 0.95, 0.7, 0.5, 0.3, 0.18, 0.1, 0.07, 0.05, 0.04, 0.03],
    [0.9, 1.3, 1.2, 1.5, 1.4, 1.05, 0.8, 0.65, 0.5, 0.35, 0.25, 0.2, 0.16, 0.13, 0.11],
    [0.5, 0.7, 1.0, 0.95, 0.9, 0.75, 0.65, 0.6, 0.55, 0.5, 0.4, 0.3, 0.25, 0.2, 0.18],
    [0.45, 0.65, 0.75, 0.85, 0.9, 0.85, 0.9, 0.85, 0.65, 0.5, 0.35, 0.28, 0.22, 0.18, 0.15],
    [1.2, 1.5, 2.0, 1.7, 1.4, 1.1, 0.8, 0.6, 0.4, 0.25, 0.16, 0.11, 0.08, 0.06, 0.05],
    [0.25, 0.35, 0.45, 0.5, 0.55, 0.6, 0.55, 0.45, 0.3, 0.2, 0.15, 0.12, 0.1, 0.08, 0.07],
    [0.6, 0.85, 0.95, 1.1, 1.0, 0.95, 0.75, 0.6, 0.42, 0.3, 0.22, 0.18, 0.14, 0.12, 0.1],
    [1.0, 1.4, 1.6, 1.4, 1.5, 1.1, 0.95, 0.8, 0.6, 0.42, 0.3, 0.24, 0.2, 0.16, 0.14],
    [0.55, 0.75, 0.85, 0.8, 0.85, 0.75, 0.7, 0.65, 0.5, 0.38, 0.28, 0.22, 0.2, 0.17, 0.15],
    [0.75, 1.1, 1.05, 1.25, 1.15, 0.9, 0.6, 0.4, 0.22, 0.13, 0.08, 0.06, 0.04, 0.03, 0.02],
    [0.3, 0.45, 0.55, 0.65, 0.7, 0.75, 0.75, 0.7, 0.55, 0.4, 0.3, 0.26, 0.22, 0.2, 0.18],
    [0.85, 1.15, 1.35, 1.2, 1.05, 0.85, 0.7, 0.55, 0.38, 0.25, 0.17, 0.13, 0.1, 0.08, 0.07],
]

P2_DENSE = [
    [0.3, 0.5, 0.6, 0.7, 0.8, 0.75, 0.6, 0.5, 0.3, 0.2, 0.12, 0.08, 0.06, 0.05, 0.04],
    [0.6, 1.0, 1.3, 1.5, 1.4, 1.1, 0.8, 0.6, 0.4, 0.28, 0.18, 0.13, 0.1, 0.08, 0.06],
    [1.0, 1.6, 2.0, 1.8, 1.6, 1.3, 0.9, 0.58, 0.35, 0.22, 0.14, 0.1, 0.07, 0.05, 0.04],
    [1.5, 2.2, 2.6, 2.2, 2.0, 1.5, 1.0, 0.6, 0.33, 0.2, 0.12, 0.08, 0.06, 0.04, 0.03],
    [2.0, 2.8, 2.4, 2.7, 2.3, 1.7, 1.1, 0.62, 0.38, 0.25, 0.16, 0.12, 0.09, 0.07, 0.05],
    [0.8, 1.3, 1.7, 1.9, 2.2, 1.9, 1.3, 0.65, 0.45, 0.35, 0.25, 0.2, 0.15, 0.12, 0.1],
    [0.5, 0.8, 1.0, 1.1, 1.2, 1.1, 0.9, 0.6, 0.5, 0.42, 0.32, 0.26, 0.2, 0.17, 0.15],
    [1.2, 1.9, 1.6, 2.1, 1.8, 1.4, 1.0, 0.6, 0.4, 0.3, 0.22, 0.17, 0.13, 0.1, 0.08],
    [0.4, 0.6, 0.8, 0.9, 1.0, 0.95, 0.8, 0.55, 0.35, 0.22, 0.14, 0.1, 0.07, 0.05, 0.04],
    [2.5, 3.0, 2.8, 2.4, 2.2, 1.6, 1.1, 0.58, 0.3, 0.18, 0.1, 0.07, 0.05, 0.04, 0.03],
    [0.7, 1.1, 1.4, 1.6, 1.5, 1.3, 1.0, 0.65, 0.55, 0.45, 0.35, 0.3, 0.26, 0.22, 0.2],
    [1.8, 2.4, 3.0, 2.6, 2.4, 1.8, 1.2, 0.63, 0.42, 0.3, 0.2, 0.15, 0.12, 0.09, 0.07],
    [0.25, 0.4, 0.5, 0.55, 0.6, 0.6, 0.55, 0.5, 0.4, 0.3, 0.22, 0.18, 0.15, 0.13, 0.12],
    [1.3, 1.7, 2.1, 2.4, 2.0, 1.6, 1.2, 0.67, 0.5, 0.38, 0.28, 0.22, 0.18, 0.15, 0.13],
    [0.9, 1.4, 1.2, 1.5, 1.3, 1.2, 0.95, 0.56, 0.32, 0.2, 0.13, 0.09, 0.07, 0.05, 0.04],
    [0.6, 0.9, 1.1, 1.3, 1.1, 1.0, 0.85, 0.6, 0.58, 0.5, 0.4, 0.33, 0.28, 0.25, 0.22],
    [2.2, 2.6, 3.2, 2.9, 2.5, 2.0, 1.3, 0.6, 0.36, 0.24, 0.15, 0.11, 0.08, 0.06, 0.05],
    [0.45, 0.7, 0.9, 1.0, 1.1, 1.0, 0.85, 0.62, 0.45, 0.32, 0.22, 0.17, 0.13, 0.11, 0.09],
    [1.1, 1.5, 1.8, 1.6, 1.7, 1.5, 1.1, 0.64, 0.48, 0.36, 0.26, 0.21, 0.17, 0.14, 0.12],
    [0.35, 0.55, 0.7, 0.8, 0.85, 0.8, 0.7, 0.52, 0.3, 0.18, 0.11, 0.08, 0.06, 0.04, 0.03],
]

P3_DENSE = [
    [0.3, 0.5, 0.7, 0.8, 0.9, 0.85, 0.7, 0.55, 0.45, 0.38, 0.25, 0.18, 0.12, 0.08, 0.06],
    [0.8, 1.3, 1.6, 1.8, 1.7, 1.4, 1.0, 0.7, 0.5, 0.4, 0.28, 0.2, 0.14, 0.1, 0.08],
    [1.5, 2.2, 2.6, 2.4, 2.2, 1.8, 1.3, 0.85, 0.52, 0.4, 0.26, 0.18, 0.12, 0.08, 0.06],
    [2.2, 3.0, 3.4, 3.0, 2.7, 2.2, 1.5, 0.9, 0.5, 0.38, 0.24, 0.16, 0.1, 0.07, 0.05],
    [3.0, 3.8, 3.5, 3.9, 3.3, 2.6, 1.7, 1.0, 0.55, 0.4, 0.27, 0.19, 0.13, 0.09, 0.07],
    [1.2, 1.8, 2.3, 2.8, 3.2, 3.0, 2.2, 1.3, 0.6, 0.42, 0.32, 0.26, 0.2, 0.16, 0.13],
    [0.6, 0.9, 1.2, 1.4, 1.6, 1.7, 1.5, 1.1, 0.65, 0.45, 0.38, 0.32, 0.28, 0.25, 0.22],
    [1.8, 2.6, 2.2, 3.0, 2.6, 2.3, 1.6, 1.0, 0.56, 0.42, 0.3, 0.22, 0.16, 0.12, 0.1],
    [0.5, 0.7, 0.9, 1.1, 1.2, 1.3, 1.1, 0.8, 0.5, 0.37, 0.22, 0.14, 0.09, 0.06, 0.04],
    [3.6, 4.0, 3.6, 3.2, 2.9, 2.3, 1.5, 0.9, 0.48, 0.36, 0.2, 0.12, 0.08, 0.05, 0.04],
    [1.0, 1.5, 1.9, 2.1, 2.0, 1.9, 1.6, 1.2, 0.7, 0.47, 0.42, 0.38, 0.33, 0.3, 0.28],
    [2.6, 3.4, 4.1, 3.6, 3.3, 2.7, 1.8, 1.1, 0.58, 0.42, 0.3, 0.24, 0.18, 0.14, 0.12],
    [0.2, 0.3, 0.4, 0.5, 0.55, 0.6, 0.55, 0.5, 0.45, 0.4, 0.3, 0.24, 0.2, 0.17, 0.15],
    [1.6, 2.2, 2.7, 3.2, 2.8, 2.4, 1.9, 1.3, 0.62, 0.44, 0.34, 0.27, 0.22, 0.18, 0.16],
    [1.1, 1.7, 1.5, 2.0, 1.8, 1.6, 1.2, 0.85, 0.5, 0.38, 0.25, 0.17, 0.12, 0.09, 0.07],
    [0.7, 1.0, 1.3, 1.6, 1.4, 1.4, 1.2, 0.95, 0.6, 0.46, 0.44, 0.42, 0.38, 0.34, 0.3],
    [3.3, 3.6, 4.2, 3.8, 3.4, 2.8, 2.0, 1.2, 0.54, 0.4, 0.26, 0.18, 0.12, 0.09, 0.07],
    [0.4, 0.6, 0.8, 0.9, 1.0, 1.1, 0.95, 0.75, 0.55, 0.42, 0.32, 0.25, 0.2, 0.16, 0.14],
    [1.3, 1.9, 2.4, 2.1, 2.4, 2.1, 1.6, 1.05, 0.58, 0.43, 0.33, 0.26, 0.21, 0.17, 0.15],
    [0.25, 0.4, 0.55, 0.65, 0.7, 0.75, 0.7, 0.6, 0.45, 0.36, 0.22, 0.15, 0.1, 0.07, 0.05],
]

P4_DENSE = [
    [0.4, 0.7, 1.0, 1.2, 1.3, 1.2, 0.9, 0.7, 0.5, 0.42, 0.33, 0.22, 0.15, 0.1, 0.08],
    [1.2, 2.0, 2.5, 2.8, 2.6, 2.0, 1.4, 1.0, 0.6, 0.45, 0.34, 0.24, 0.17, 0.12, 0.09],
    [2.2, 3.2, 3.8, 3.4, 3.2, 2.6, 1.8, 1.2, 0.65, 0.46, 0.34, 0.22, 0.14, 0.1, 0.08],
    [3.2, 4.2, 4.8, 4.2, 3.8, 3.0, 2.0, 1.3, 0.68, 0.45, 0.33, 0.2, 0.12, 0.08, 0.06],
    [4.5, 5.2, 4.6, 5.0, 4.4, 3.4, 2.3, 1.4, 0.7, 0.46, 0.35, 0.24, 0.16, 0.11, 0.09],
    [1.8, 2.6, 3.2, 3.8, 4.5, 4.2, 3.0, 2.0, 0.9, 0.55, 0.38, 0.3, 0.24, 0.2, 0.17],
    [0.8, 1.3, 1.7, 2.0, 2.3, 2.5, 2.2, 1.6, 0.95, 0.6, 0.4, 0.34, 0.3, 0.28, 0.26],
    [2.6, 3.6, 3.2, 4.2, 3.6, 3.2, 2.3, 1.5, 0.75, 0.5, 0.36, 0.27, 0.2, 0.15, 0.12],
    [0.6, 1.0, 1.3, 1.5, 1.7, 1.8, 1.5, 1.1, 0.6, 0.42, 0.33, 0.2, 0.13, 0.09, 0.07],
    [5.2, 5.5, 5.0, 4.5, 4.0, 3.2, 2.1, 1.3, 0.62, 0.42, 0.32, 0.18, 0.11, 0.07, 0.05],
    [1.5, 2.2, 2.8, 3.0, 2.9, 2.8, 2.4, 1.8, 1.1, 0.65, 0.42, 0.4, 0.38, 0.36, 0.34],
    [3.8, 4.8, 5.5, 5.0, 4.6, 3.8, 2.6, 1.6, 0.78, 0.5, 0.36, 0.28, 0.22, 0.17, 0.14],
    [0.3, 0.45, 0.6, 0.7, 0.8, 0.85, 0.8, 0.7, 0.55, 0.45, 0.36, 0.3, 0.26, 0.23, 0.21],
    [2.4, 3.2, 3.9, 4.5, 4.0, 3.5, 2.8, 1.9, 0.85, 0.52, 0.37, 0.3, 0.25, 0.21, 0.18],
    [1.6, 2.4, 2.1, 2.8, 2.5, 2.2, 1.6, 1.1, 0.6, 0.43, 0.33, 0.22, 0.15, 0.11, 0.09],
    [1.0, 1.5, 1.9, 2.3, 2.0, 2.0, 1.8, 1.4, 0.85, 0.55, 0.4, 0.42, 0.44, 0.4, 0.38],
    [4.8, 5.3, 5.8, 5.2, 4.8, 4.0, 2.8, 1.7, 0.72, 0.47, 0.34, 0.24, 0.17, 0.12, 0.1],
    [0.5, 0.8, 1.1, 1.3, 1.4, 1.5, 1.3, 1.0, 0.7, 0.5, 0.36, 0.3, 0.25, 0.21, 0.19],
    [1.9, 2.7, 3.4, 3.0, 3.4, 3.0, 2.3, 1.5, 0.8, 0.5, 0.36, 0.29, 0.23, 0.19, 0.16],
    [0.35, 0.55, 0.75, 0.9, 1.0, 1.05, 0.95, 0.8, 0.55, 0.42, 0.32, 0.2, 0.13, 0.09, 0.07],
]

P5_DENSE = [
    [0.5, 0.9, 1.3, 1.6, 1.8, 1.6, 1.3, 1.0, 0.7, 0.5, 0.35, 0.27, 0.2, 0.14, 0.1],
    [1.6, 2.6, 3.3, 3.6, 3.4, 2.7, 2.0, 1.4, 0.85, 0.6, 0.4, 0.28, 0.18, 0.12, 0.09],
    [2.8, 4.0, 4.8, 4.4, 4.2, 3.4, 2.4, 1.6, 0.9, 0.6, 0.38, 0.27, 0.15, 0.1, 0.07],
    [4.0, 5.4, 6.2, 5.4, 5.0, 4.0, 2.7, 1.7, 0.95, 0.62, 0.4, 0.28, 0.18, 0.12, 0.09],
    [5.6, 6.6, 5.8, 6.5, 5.7, 4.4, 3.0, 1.9, 1.0, 0.65, 0.42, 0.29, 0.24, 0.18, 0.14],
    [2.3, 3.4, 4.2, 5.0, 5.8, 5.4, 4.0, 2.7, 1.3, 0.8, 0.48, 0.3, 0.33, 0.3, 0.25],
    [1.0, 1.7, 2.2, 2.6, 3.0, 3.2, 2.9, 2.2, 1.3, 0.9, 0.55, 0.31, 0.38, 0.36, 0.3],
    [3.4, 4.6, 4.2, 5.4, 4.6, 4.0, 3.0, 2.0, 1.05, 0.7, 0.45, 0.29, 0.26, 0.2, 0.16],
    [0.8, 1.3, 1.7, 2.0, 2.2, 2.3, 2.0, 1.5, 0.9, 0.62, 0.42, 0.27, 0.16, 0.11, 0.08],
    [6.8, 7.2, 6.5, 5.8, 5.2, 4.2, 2.8, 1.7, 0.9, 0.58, 0.38, 0.27, 0.14, 0.09, 0.07],
    [2.0, 2.8, 3.6, 3.9, 3.8, 3.6, 3.2, 2.5, 1.5, 1.0, 0.6, 0.3, 0.42, 0.4, 0.32],
    [5.0, 6.2, 7.2, 6.5, 6.0, 5.0, 3.4, 2.1, 1.1, 0.7, 0.45, 0.29, 0.3, 0.24, 0.2],
    [0.35, 0.55, 0.8, 0.9, 1.0, 1.1, 1.0, 0.9, 0.7, 0.55, 0.4, 0.28, 0.3, 0.28, 0.25],
    [3.1, 4.2, 5.1, 5.9, 5.2, 4.6, 3.6, 2.5, 1.2, 0.75, 0.48, 0.3, 0.32, 0.28, 0.24],
    [2.1, 3.1, 2.7, 3.6, 3.3, 2.9, 2.1, 1.4, 0.8, 0.55, 0.38, 0.27, 0.2, 0.14, 0.11],
    [1.3, 2.0, 2.5, 3.0, 2.6, 2.6, 2.3, 1.8, 1.2, 0.85, 0.6, 0.3, 0.45, 0.42, 0.36],
    [6.2, 6.9, 7.5, 6.8, 6.2, 5.2, 3.6, 2.2, 0.95, 0.6, 0.4, 0.28, 0.2, 0.14, 0.11],
    [0.6, 1.0, 1.4, 1.7, 1.8, 1.9, 1.7, 1.3, 0.9, 0.65, 0.45, 0.29, 0.35, 0.32, 0.28],
    [2.5, 3.5, 4.4, 3.9, 4.4, 3.9, 3.0, 2.0, 1.05, 0.68, 0.45, 0.3, 0.28, 0.24, 0.2],
    [0.45, 0.7, 1.0, 1.2, 1.3, 1.35, 1.2, 1.0, 0.7, 0.5, 0.36, 0.26, 0.14, 0.1, 0.07],
]

P6_DENSE = [
    [0.6, 1.1, 1.6, 1.9, 2.1, 1.9, 1.6, 1.3, 1.0, 0.75, 0.5, 0.38, 0.3, 0.22, 0.16],
    [1.9, 3.0, 3.9, 4.3, 4.0, 3.2, 2.4, 1.7, 1.1, 0.8, 0.55, 0.4, 0.28, 0.2, 0.14],
    [3.3, 4.7, 5.7, 5.2, 5.0, 4.0, 2.9, 2.0, 1.15, 0.8, 0.52, 0.38, 0.26, 0.18, 0.12],
    [4.7, 6.4, 7.3, 6.4, 5.9, 4.7, 3.2, 2.1, 1.2, 0.82, 0.55, 0.4, 0.3, 0.22, 0.16],
    [6.6, 7.8, 6.9, 7.7, 6.7, 5.2, 3.6, 2.3, 1.3, 0.85, 0.56, 0.4, 0.3, 0.26, 0.22],
    [2.7, 4.0, 5.0, 5.9, 6.9, 6.4, 4.7, 3.2, 1.7, 1.05, 0.65, 0.45, 0.32, 0.32, 0.3],
    [1.2, 2.0, 2.6, 3.1, 3.5, 3.8, 3.4, 2.6, 1.7, 1.2, 0.75, 0.5, 0.34, 0.36, 0.33],
    [4.0, 5.4, 5.0, 6.4, 5.4, 4.7, 3.5, 2.4, 1.35, 0.9, 0.6, 0.42, 0.3, 0.24, 0.18],
    [0.9, 1.5, 2.0, 2.4, 2.6, 2.7, 2.4, 1.8, 1.15, 0.8, 0.55, 0.38, 0.24, 0.16, 0.11],
    [8.0, 8.5, 7.7, 6.8, 6.1, 5.0, 3.3, 2.0, 1.15, 0.75, 0.5, 0.36, 0.22, 0.15, 0.1],
    [2.4, 3.3, 4.3, 4.6, 4.5, 4.3, 3.8, 3.0, 2.0, 1.35, 0.85, 0.55, 0.35, 0.4, 0.36],
    [5.9, 7.3, 8.5, 7.7, 7.1, 5.9, 4.0, 2.5, 1.4, 0.9, 0.6, 0.42, 0.3, 0.28, 0.25],
    [0.4, 0.65, 0.95, 1.1, 1.2, 1.3, 1.2, 1.05, 0.85, 0.7, 0.5, 0.38, 0.28, 0.3, 0.28],
    [3.7, 5.0, 6.0, 7.0, 6.1, 5.4, 4.2, 2.9, 1.55, 1.0, 0.65, 0.45, 0.32, 0.3, 0.26],
    [2.5, 3.7, 3.2, 4.3, 3.9, 3.4, 2.5, 1.7, 1.0, 0.7, 0.48, 0.35, 0.26, 0.18, 0.13],
    [1.5, 2.4, 3.0, 3.5, 3.1, 3.1, 2.7, 2.1, 1.5, 1.1, 0.8, 0.55, 0.36, 0.42, 0.38],
    [7.3, 8.2, 8.9, 8.0, 7.3, 6.1, 4.2, 2.6, 1.25, 0.8, 0.52, 0.38, 0.26, 0.2, 0.15],
    [0.7, 1.2, 1.7, 2.0, 2.1, 2.2, 2.0, 1.6, 1.15, 0.85, 0.6, 0.45, 0.3, 0.34, 0.3],
    [3.0, 4.2, 5.2, 4.6, 5.2, 4.6, 3.5, 2.4, 1.35, 0.9, 0.6, 0.42, 0.3, 0.26, 0.22],
    [0.5, 0.85, 1.2, 1.4, 1.55, 1.6, 1.4, 1.15, 0.85, 0.62, 0.45, 0.32, 0.22, 0.15, 0.1],
]

# --- spectra read on LOW_PERIODS grid (lower part of the band) ---
P1_LOW = [
    [0.25, 0.35, 0.5, 0.6, 0.5, 0.38, 0.22, 0.12, 0.07, 0.05, 0.03, 0.02, 0.02],
    [0.3, 0.45, 0.6, 0.65, 0.55, 0.42, 0.27, 0.17, 0.1, 0.07, 0.05, 0.04, 0.03],
    [0.4, 0.55, 0.65, 0.7, 0.6, 0.48, 0.32, 0.22, 0.14, 0.1, 0.07, 0.05, 0.04],
    [0.5, 0.7, 0.75, 0.72, 0.65, 0.52, 0.36, 0.26, 0.17, 0.13, 0.09, 0.07, 0.06],
    [0.6, 0.8, 0.85, 0.78, 0.7, 0.58, 0.42, 0.3, 0.2, 0.15, 0.11, 0.09, 0.08],
    [0.35, 0.5, 0.62, 0.68, 0.6, 0.5, 0.38, 0.28, 0.2, 0.17, 0.14, 0.12, 0.11],
    [0.7, 0.9, 0.9, 0.82, 0.72, 0.6, 0.45, 0.34, 0.25, 0.2, 0.16, 0.14, 0.12],
    [0.28, 0.4, 0.55, 0.62, 0.52, 0.4, 0.25, 0.15, 0.09, 0.06, 0.04, 0.03, 0.025],
    [0.45, 0.6, 0.7, 0.75, 0.68, 0.55, 0.4, 0.3, 0.22, 0.18, 0.15, 0.13, 0.12],
    [0.55, 0.75, 0.8, 0.75, 0.62, 0.5, 0.33, 0.22, 0.13, 0.09, 0.06, 0.05, 0.04],
    [0.32, 0.45, 0.58, 0.64, 0.58, 0.46, 0.3, 0.2, 0.12, 0.08, 0.06, 0.04, 0.03],
    [0.8, 1.0, 0.95, 0.85, 0.75, 0.62, 0.48, 0.36, 0.27, 0.22, 0.18, 0.15, 0.13],
]

P2_LOW = [
    [0.2, 0.25, 0.3, 0.38, 0.45, 0.48, 0.3, 0.17, 0.09, 0.06, 0.04, 0.03, 0.02],
    [0.3, 0.4, 0.45, 0.5, 0.5, 0.5, 0.35, 0.22, 0.12, 0.08, 0.06, 0.04, 0.03],
    [0.4, 0.5, 0.55, 0.55, 0.55, 0.52, 0.38, 0.26, 0.16, 0.11, 0.08, 0.06, 0.05],
    [0.5, 0.65, 0.7, 0.65, 0.6, 0.55, 0.42, 0.3, 0.2, 0.15, 0.11, 0.09, 0.07],
    [0.65, 0.8, 0.85, 0.75, 0.65, 0.57, 0.45, 0.34, 0.24, 0.19, 0.15, 0.12, 0.1],
    [0.25, 0.35, 0.4, 0.42, 0.45, 0.47, 0.4, 0.3, 0.22, 0.18, 0.15, 0.13, 0.12],
    [0.8, 1.0, 0.95, 0.85, 0.7, 0.58, 0.48, 0.38, 0.28, 0.22, 0.18, 0.16, 0.14],
    [0.35, 0.45, 0.5, 0.55, 0.52, 0.5, 0.32, 0.2, 0.11, 0.07, 0.05, 0.035, 0.025],
    [0.45, 0.55, 0.65, 0.62, 0.58, 0.54, 0.44, 0.34, 0.25, 0.2, 0.17, 0.15, 0.13],
    [0.55, 0.7, 0.75, 0.7, 0.62, 0.53, 0.36, 0.24, 0.14, 0.1, 0.07, 0.05, 0.04],
    [0.3, 0.38, 0.42, 0.48, 0.5, 0.51, 0.37, 0.25, 0.15, 0.1, 0.07, 0.05, 0.04],
    [0.9, 1.1, 1.05, 0.9, 0.75, 0.6, 0.5, 0.4, 0.3, 0.24, 0.2, 0.17, 0.15],
]

P3_LOW = [
    [0.15, 0.22, 0.28, 0.32, 0.35, 0.38, 0.38, 0.33, 0.2, 0.12, 0.08, 0.05, 0.03],
    [0.25, 0.3, 0.35, 0.4, 0.42, 0.45, 0.42, 0.36, 0.24, 0.16, 0.1, 0.07, 0.05],
    [0.35, 0.4, 0.45, 0.5, 0.55, 0.55, 0.45, 0.38, 0.27, 0.2, 0.14, 0.1, 0.08],
    [0.45, 0.55, 0.6, 0.65, 0.68, 0.62, 0.48, 0.4, 0.3, 0.24, 0.18, 0.14, 0.12],
    [0.6, 0.75, 0.8, 0.8, 0.78, 0.68, 0.5, 0.41, 0.33, 0.28, 0.22, 0.18, 0.16],
    [0.2, 0.28, 0.35, 0.42, 0.48, 0.5, 0.44, 0.37, 0.26, 0.2, 0.16, 0.13, 0.11],
    [0.8, 1.0, 1.1, 1.05, 0.95, 0.8, 0.55, 0.42, 0.35, 0.3, 0.25, 0.22, 0.2],
    [0.3, 0.38, 0.42, 0.48, 0.5, 0.5, 0.42, 0.35, 0.22, 0.14, 0.09, 0.06, 0.04],
    [0.5, 0.6, 0.7, 0.72, 0.7, 0.62, 0.47, 0.39, 0.3, 0.26, 0.22, 0.19, 0.17],
    [0.7, 0.85, 0.9, 0.85, 0.8, 0.7, 0.52, 0.4, 0.27, 0.18, 0.12, 0.08, 0.06],
    [0.4, 0.5, 0.55, 0.58, 0.6, 0.58, 0.46, 0.38, 0.25, 0.17, 0.11, 0.08, 0.06],
    [1.0, 1.2, 1.25, 1.15, 1.0, 0.85, 0.56, 0.43, 0.37, 0.33, 0.28, 0.24, 0.22],
]

P4_LOW = [
    [0.2, 0.25, 0.28, 0.3, 0.3, 0.3, 0.32, 0.33, 0.32, 0.2, 0.13, 0.08, 0.05],
    [0.3, 0.38, 0.4, 0.42, 0.4, 0.38, 0.36, 0.35, 0.33, 0.24, 0.17, 0.12, 0.09],
    [0.4, 0.5, 0.55, 0.55, 0.5, 0.45, 0.4, 0.37, 0.34, 0.27, 0.21, 0.16, 0.13],
    [0.55, 0.7, 0.75, 0.72, 0.65, 0.55, 0.45, 0.39, 0.35, 0.3, 0.25, 0.2, 0.17],
    [0.75, 0.9, 1.0, 0.95, 0.85, 0.7, 0.5, 0.41, 0.36, 0.32, 0.28, 0.24, 0.21],
    [0.25, 0.32, 0.38, 0.45, 0.48, 0.46, 0.42, 0.38, 0.33, 0.28, 0.24, 0.21, 0.19],
    [1.0, 1.2, 1.3, 1.25, 1.1, 0.9, 0.6, 0.45, 0.37, 0.34, 0.31, 0.28, 0.26],
    [0.35, 0.42, 0.48, 0.5, 0.48, 0.44, 0.4, 0.36, 0.32, 0.22, 0.15, 0.1, 0.07],
    [0.6, 0.75, 0.85, 0.88, 0.82, 0.72, 0.52, 0.42, 0.36, 0.33, 0.3, 0.27, 0.25],
    [0.8, 1.0, 1.1, 1.05, 0.95, 0.8, 0.55, 0.43, 0.34, 0.24, 0.16, 0.11, 0.08],
    [0.45, 0.55, 0.62, 0.65, 0.62, 0.56, 0.46, 0.4, 0.35, 0.26, 0.19, 0.14, 0.11],
    [1.2, 1.4, 1.5, 1.4, 1.25, 1.0, 0.65, 0.47, 0.38, 0.36, 0.34, 0.32, 0.3],
]

P5_LOW = [
    [0.2, 0.25, 0.28, 0.28, 0.28, 0.27, 0.26, 0.25, 0.25, 0.26, 0.15, 0.1, 0.06],
    [0.3, 0.38, 0.42, 0.42, 0.4, 0.38, 0.34, 0.3, 0.27, 0.27, 0.2, 0.14, 0.1],
    [0.45, 0.55, 0.6, 0.58, 0.55, 0.5, 0.42, 0.35, 0.29, 0.28, 0.25, 0.2, 0.15],
    [0.6, 0.75, 0.85, 0.82, 0.75, 0.65, 0.5, 0.4, 0.31, 0.28, 0.3, 0.26, 0.2],
    [0.85, 1.0, 1.1, 1.05, 0.95, 0.82, 0.6, 0.45, 0.33, 0.29, 0.34, 0.3, 0.25],
    [0.25, 0.32, 0.38, 0.45, 0.5, 0.5, 0.45, 0.38, 0.3, 0.28, 0.28, 0.25, 0.22],
    [1.2, 1.5, 1.7, 1.6, 1.4, 1.2, 0.8, 0.55, 0.36, 0.3, 0.38, 0.34, 0.28],
    [0.35, 0.45, 0.52, 0.55, 0.52, 0.46, 0.38, 0.32, 0.27, 0.26, 0.18, 0.12, 0.08],
    [0.7, 0.85, 0.95, 1.0, 0.95, 0.85, 0.65, 0.5, 0.34, 0.3, 0.32, 0.3, 0.26],
    [1.0, 1.3, 1.45, 1.35, 1.2, 1.0, 0.7, 0.5, 0.32, 0.27, 0.22, 0.16, 0.12],
    [0.5, 0.62, 0.7, 0.72, 0.68, 0.6, 0.48, 0.4, 0.3, 0.27, 0.24, 0.2, 0.16],
    [1.5, 1.8, 2.0, 1.9, 1.7, 1.4, 0.95, 0.65, 0.4, 0.31, 0.36, 0.33, 0.3],
]

P6_LOW = [
    [0.2, 0.26, 0.3, 0.35, 0.35, 0.33, 0.3, 0.27, 0.24, 0.22, 0.22, 0.15, 0.08],
    [0.3, 0.4, 0.45, 0.48, 0.46, 0.43, 0.38, 0.33, 0.28, 0.25, 0.23, 0.18, 0.12],
    [0.5, 0.62, 0.68, 0.68, 0.64, 0.58, 0.48, 0.4, 0.32, 0.27, 0.24, 0.22, 0.17],
    [0.7, 0.88, 0.95, 0.95, 0.88, 0.78, 0.6, 0.48, 0.37, 0.3, 0.25, 0.26, 0.22],
    [1.0, 1.2, 1.3, 1.28, 1.2, 1.05, 0.78, 0.6, 0.44, 0.34, 0.27, 0.3, 0.27],
    [0.28, 0.36, 0.44, 0.52, 0.58, 0.6, 0.55, 0.46, 0.36, 0.29, 0.24, 0.24, 0.2],
    [1.4, 1.7, 1.9, 1.85, 1.7, 1.5, 1.1, 0.8, 0.55, 0.4, 0.29, 0.33, 0.3],
    [0.4, 0.5, 0.56, 0.6, 0.58, 0.53, 0.45, 0.38, 0.3, 0.26, 0.23, 0.17, 0.11],
    [0.8, 1.0, 1.1, 1.15, 1.1, 1.0, 0.8, 0.62, 0.46, 0.36, 0.27, 0.28, 0.25],
    [1.2, 1.5, 1.65, 1.55, 1.4, 1.2, 0.88, 0.65, 0.45, 0.33, 0.25, 0.2, 0.15],
    [0.6, 0.72, 0.8, 0.82, 0.78, 0.7, 0.56, 0.45, 0.34, 0.28, 0.24, 0.2, 0.16],
    [1.8, 2.1, 2.4, 2.3, 2.1, 1.8, 1.3, 0.95, 0.62, 0.45, 0.3, 0.32, 0.32],
]

PANEL_SPECTRA = [P1_SPECTRA, P2_SPECTRA, P3_SPECTRA, P4_SPECTRA, P5_SPECTRA, P6_SPECTRA]
PANEL_DENSE = [P1_DENSE, P2_DENSE, P3_DENSE, P4_DENSE, P5_DENSE, P6_DENSE]
PANEL_LOW = [P1_LOW, P2_LOW, P3_LOW, P4_LOW, P5_LOW, P6_LOW]

# ---------------- layout geometry (screen pixels) ----------------
W, H = 2508, 1378
OFF = 8  # the html page body adds an 8px margin; positions below are screen positions
BOXES = [  # left, right, top, bottom
    (91, 760, 92, 622),
    (939, 1609, 99, 629),
    (1786, 2456, 107, 637),
    (91, 760, 797, 1325),
    (939, 1609, 797, 1325),
    (1786, 2456, 797, 1325),
]
TITLE_Y = [53, 53, 53, 758, 758, 758]


def px(x):
    return (x - OFF) / W


def py(y):
    return 1 - (y - OFF) / H


AXIS_GRAY = "#999999"
TEXT_GRAY = "#4a4a4a"
FONT = "Liberation Sans, Arial, Helvetica, sans-serif"
TITLE_FONT = "Liberation Sans, Arial, sans-serif"

fig = go.Figure()
layout = dict(
    template="none",
    width=W, height=H,
    margin=dict(l=0, r=0, t=0, b=0, autoexpand=False),
    paper_bgcolor="white", plot_bgcolor="white",
    showlegend=True,
    annotations=[],
)

LINE_STYLE = dict(color="black", width=2.1, shape="spline", smoothing=0.5)

for i in range(6):
    k = i + 1
    xa = "x" if k == 1 else f"x{k}"
    ya = "y" if k == 1 else f"y{k}"
    lg = "legend" if k == 1 else f"legend{k}"
    l, r, t, b = BOXES[i]

    groups = [(LOW_PERIODS, PANEL_LOW[i]), (DENSE_PERIODS, PANEL_DENSE[i]), (PERIODS, PANEL_SPECTRA[i])]
    first = True
    for xs, curves in groups:
        for curve in curves:
            fig.add_trace(go.Scatter(
                x=xs, y=curve, mode="lines", line=LINE_STYLE,
                name="Response Spectra for Scaled Ground Motions",
                showlegend=first, legend=lg, xaxis=xa, yaxis=ya, hoverinfo="skip",
            ))
            first = False
    fig.add_trace(go.Scatter(
        x=CODE_T, y=CODE_SA, mode="lines",
        line=dict(color="#ff0000", width=5.5, dash="13px,10px"),
        name="Code Spectrum (Wellington)",
        showlegend=True, legend=lg,
        xaxis=xa, yaxis=ya, hoverinfo="skip",
    ))

    axis_common = dict(
        showline=True, linecolor=AXIS_GRAY, linewidth=2.2, mirror="ticks",
        ticks="inside", ticklen=7, tickwidth=1.6, tickcolor="#777777",
        showgrid=False, zeroline=False, automargin=False,
        tickfont=dict(family=FONT, size=19, color=TEXT_GRAY),
    )
    layout["xaxis" if k == 1 else f"xaxis{k}"] = dict(
        axis_common,
        domain=[px(l), px(r)], anchor=ya,
        range=[0.1, 3], tickvals=X_TICKS, ticktext=X_TICK_TEXT,
        title=dict(text="Period (s)", font=dict(family=FONT, size=22, color=TEXT_GRAY),
                   standoff=12 if i < 3 else 1),
    )
    layout["yaxis" if k == 1 else f"yaxis{k}"] = dict(
        axis_common,
        domain=[py(b), py(t)], anchor=xa,
        range=[0, Y_MAX[i]], dtick=Y_DTICK[i], tick0=0,
        title=dict(text="Spectral Acceleration (g)", font=dict(family=FONT, size=22, color=TEXT_GRAY), standoff=10),
    )
    layout[lg] = dict(
        x=px(r - 19), y=py(t + 20), xanchor="right", yanchor="top",
        xref="paper", yref="paper",
        bgcolor="white", bordercolor=AXIS_GRAY, borderwidth=1.8,
        font=dict(family=FONT, size=18, color="#222222"),
        itemwidth=60, tracegroupgap=0,
    )
    if i % 3 == 2:
        tx, xanchor = px(2504), "right"
    else:
        tx, xanchor = px((l + r) / 2), "center"
    layout["annotations"].append(dict(
        text=f"Long Duration Motions, Scaled to T = {SCALE_T[i]} s",
        x=tx, y=py(TITLE_Y[i]), xref="paper", yref="paper",
        xanchor=xanchor, yanchor="middle", showarrow=False,
        font=dict(family=TITLE_FONT, size=37, color="black", weight="bold"),
    ))

fig.update_layout(**layout)
fig.write_html("out.html")
